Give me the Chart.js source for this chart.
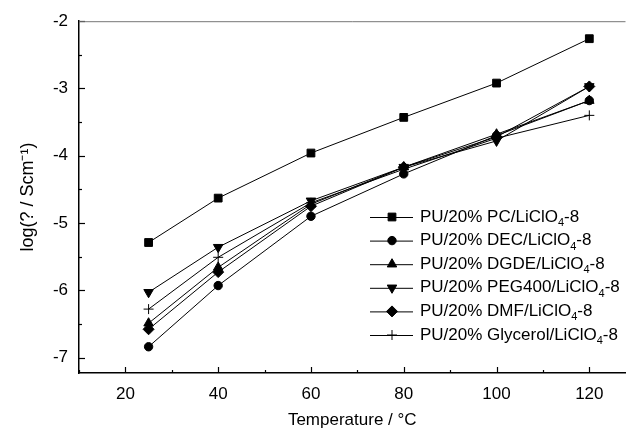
<html>
<head>
  <title>Conductivity vs Temperature</title>
  <script src="https://cdn.jsdelivr.net/npm/chart.js"></script>
  <style>
    body { margin: 0; background: #fff; }
  </style>
</head>
<body>
  <canvas id="cond" width="632" height="429"></canvas>

  <script>
    // temperatures (deg C)
    const temps = [25, 40, 60, 80, 100, 120];

    // log(sigma) values
    const pcVals = [-5.29, -4.63, -3.96, -3.43, -2.92, -2.26];
    const decVals = [-6.84, -5.93, -4.90, -4.27, -3.70, -3.18];
    const dgdeVals = [-6.49, -5.66, -4.72, -4.17, -3.68, -3.18];
    const pegVals = [-6.03, -5.36, -4.67, -4.17, -3.78, -2.97];
    const dmfVals = [-6.58, -5.73, -4.75, -4.17, -3.72, -2.97];
    const glyVals = [-6.28, -5.51, -4.70, -4.20, -3.74, -3.40];

    const seriesLabels = [
      'PU/20% PC/LiClO₄-8',
      'PU/20% DEC/LiClO₄-8',
      'PU/20% DGDE/LiClO₄-8',
      'PU/20% PEG400/LiClO₄-8',
      'PU/20% DMF/LiClO₄-8',
      'PU/20% Glycerol/LiClO₄-8'
    ];

    // tick values
    const xTicks = [20, 40, 60, 80, 100, 120];
    const xMinor = [10, 30, 50, 70, 90, 110];
    const yTicks = [-7, -6, -5, -4, -3, -2];
    const yMinor = [-6.5, -5.5, -4.5, -3.5, -2.5];

    const FONT = 'Liberation Sans, Arial, sans-serif';

    function makeSet(label, vals, style, radius, rotation) {
      return {
        label: label,
        data: temps.map((t, i) => ({ x: t, y: vals[i] })),
        borderColor: '#000',
        backgroundColor: '#000',
        borderWidth: 1,
        pointStyle: style,
        pointRadius: radius,
        pointRotation: rotation || 0,
        pointBorderWidth: 1,
        pointBackgroundColor: '#000',
        pointBorderColor: '#000',
        showLine: true,
        fill: false,
        tension: 0
      };
    }

    const datasets = [
      makeSet(seriesLabels[0], pcVals, 'rect', 5.5),
      makeSet(seriesLabels[1], decVals, 'circle', 4.2),
      makeSet(seriesLabels[2], dgdeVals, 'triangle', 5.5),
      makeSet(seriesLabels[3], pegVals, 'triangle', 5.5, 180),
      makeSet(seriesLabels[4], dmfVals, 'rectRot', 5.5),
      makeSet(seriesLabels[5], glyVals, 'cross', 5)
    ];

    // inside tick marks, top frame line
    const tickPlugin = {
      id: 'insideTicks',
      afterDraw(chart) {
        const ctx = chart.ctx;
        const xs = chart.scales.x, ys = chart.scales.y;
        const area = chart.chartArea;
        ctx.save();
        ctx.strokeStyle = '#000';
        ctx.lineWidth = 1.2;
        xTicks.concat(xMinor).forEach(v => {
          const px = Math.round(xs.getPixelForValue(v)) + 0.5;
          const len = xTicks.includes(v) ? 6 : 3;
          ctx.beginPath();
          ctx.moveTo(px, area.bottom);
          ctx.lineTo(px, area.bottom - len);
          ctx.stroke();
        });
        yTicks.concat(yMinor).forEach(v => {
          const py = Math.round(ys.getPixelForValue(v)) + 0.5;
          const len = yTicks.includes(v) ? 6 : 3;
          ctx.beginPath();
          ctx.moveTo(area.left, py);
          ctx.lineTo(area.left + len, py);
          ctx.stroke();
        });
        ctx.strokeStyle = '#777';
        ctx.lineWidth = 1;
        ctx.beginPath();
        ctx.moveTo(area.left, area.top + 0.5);
        ctx.lineTo(area.right, area.top + 0.5);
        ctx.stroke();
        ctx.restore();
      }
    };

    // legend with line + marker, subscript 4
    const legendPlugin = {
      id: 'lineLegend',
      afterDraw(chart) {
        const ctx = chart.ctx;
        const top = 217, step = 23.6;
        ctx.save();
        chart.data.datasets.forEach((ds, i) => {
          const y = top + i * step;
          ctx.strokeStyle = '#000';
          ctx.lineWidth = 1;
          ctx.beginPath();
          ctx.moveTo(370, y + 0.5);
          ctx.lineTo(413, y + 0.5);
          ctx.stroke();
          ctx.fillStyle = '#000';
          Chart.helpers.drawPoint(ctx, {
            pointStyle: ds.pointStyle,
            radius: ds.pointRadius,
            rotation: ds.pointRotation,
            borderWidth: 1
          }, 392, y);

          const parts = ds.label.split('₄');
          let x = 420;
          ctx.textBaseline = 'middle';
          ctx.textAlign = 'left';
          ctx.font = '17px ' + FONT;
          ctx.fillText(parts[0], x, y);
          x += ctx.measureText(parts[0]).width;
          ctx.font = '11px ' + FONT;
          ctx.fillText('4', x, y + 6);
          x += ctx.measureText('4').width;
          ctx.font = '17px ' + FONT;
          ctx.fillText(parts[1], x, y);
        });
        ctx.restore();
      }
    };

    const ctx = document.getElementById('cond').getContext('2d');
    const condChart = new Chart(ctx, {
      type: 'scatter',
      data: { datasets: datasets },
      options: {
        responsive: false,
        animation: false,
        layout: { padding: { top: 21, right: 0, left: 0, bottom: 0 } },
        plugins: {
          legend: { display: false },
          tooltip: { enabled: false }
        },
        scales: {
          x: {
            type: 'linear',
            min: 10,
            max: 127.8,
            afterFit(scale) { scale.height = 56; },
            afterBuildTicks(scale) { scale.ticks = xTicks.map(v => ({ value: v })); },
            grid: { display: false, drawTicks: false },
            border: { display: true, color: '#000', width: 1.5 },
            ticks: {
              color: '#000',
              padding: 11,
              maxRotation: 0,
              font: { family: FONT, size: 17 }
            },
            title: {
              display: true,
              text: 'Temperature / °C',
              color: '#000',
              padding: { top: 0, bottom: 0 },
              font: { family: FONT, size: 17, lineHeight: 1 }
            }
          },
          y: {
            type: 'linear',
            min: -7.23,
            max: -2,
            afterFit(scale) { scale.width = 79; },
            afterBuildTicks(scale) { scale.ticks = yTicks.map(v => ({ value: v })); },
            grid: { display: false, drawTicks: false },
            border: { display: true, color: '#000', width: 1.5 },
            ticks: {
              color: '#000',
              padding: 11,
              font: { family: FONT, size: 17 }
            },
            title: {
              display: true,
              text: 'log(? / Scm⁻¹)',
              color: '#000',
              padding: { top: 19, bottom: 0 },
              font: { family: FONT, size: 18, lineHeight: 1 }
            }
          }
        }
      },
      plugins: [tickPlugin, legendPlugin]
    });
  </script>
</body>
</html>
